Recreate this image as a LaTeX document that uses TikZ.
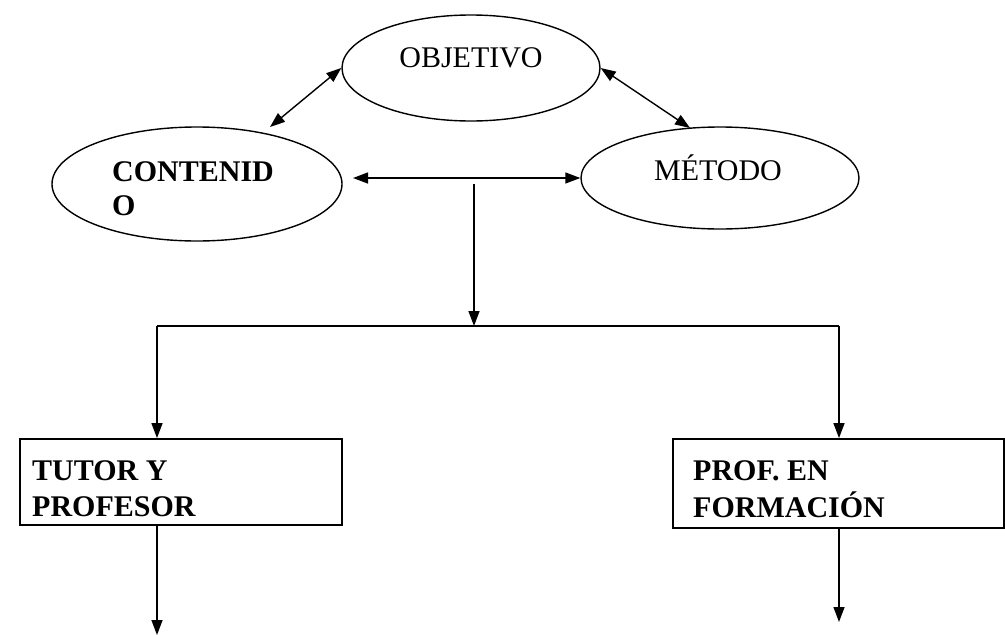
\documentclass[tikz,border=0pt]{standalone}
\usepackage{fontspec}
\setmainfont{Liberation Serif}
\usetikzlibrary{arrows.meta,shapes.geometric}
\begin{document}
\begin{tikzpicture}[x=1pt,y=-1pt,
  conn/.style={line width=1.4pt},
  tip/.style={-{Triangle[length=15pt,width=11pt]}},
  dtip/.style={{Triangle[length=15pt,width=11pt]}-{Triangle[length=15pt,width=11pt]}},
  oval/.style={draw,ellipse,line width=1.4pt,inner sep=0pt},
  boxn/.style={draw,rectangle,line width=1.8pt,inner sep=0pt},
  lbl/.style={font=\fontsize{30}{35}\selectfont,inner sep=0pt,anchor=base},
  blbl/.style={font=\bfseries\fontsize{30}{35}\selectfont,inner sep=0pt,anchor=base west}]
\useasboundingbox (0,0) rectangle (1005,635);
% ellipses
\node[oval,minimum width=258pt,minimum height=106pt] (obj) at (471,68) {};
\node[oval,minimum width=290pt,minimum height=114pt] (cont) at (197,184) {};
\node[oval,minimum width=278pt,minimum height=102pt] (met) at (720,178) {};
\node[lbl] (objt) at (471,67) {OBJETIVO};
\node[lbl] (mett) at (718,180) {MÉTODO};
\node[blbl] (cont1) at (112,181) {CONTENID};
\node[blbl] (cont2) at (112,215) {O};
% boxes
\node[boxn,minimum width=322pt,minimum height=86pt] (tpb) at (181,482) {};
\node[boxn,minimum width=331pt,minimum height=89pt] (pfb) at (838.5,483.5) {};
\node[blbl] (tp1) at (32,480) {TUTOR Y};
\node[blbl] (tp2) at (32,516) {PROFESOR};
\node[blbl] (pf1) at (693,480) {PROF. EN};
\node[blbl] (pf2) at (693,517) {FORMACIÓN};
% free ends
\coordinate (a1) at (270,127);
\coordinate (a2) at (690,128);
\coordinate (h1) at (353,178);
\coordinate (v0) at (474,184);
\coordinate (v1) at (474,326);
\coordinate (jl) at (157,326);
\coordinate (jr) at (839,326);
\coordinate (el) at (157,635);
\coordinate (er) at (839,622);
% connectors
\draw[conn,dtip] (obj.west) -- (a1);
\draw[conn,dtip] (obj.east) -- (a2);
\draw[conn,dtip] (h1) -- (met.west);
\draw[conn,tip] (v0) -- (v1);
\draw[conn] (jl) -- (jr);
\draw[conn,tip] (jl) -- (jl |- tpb.north);
\draw[conn,tip] (jr) -- (jr |- pfb.north);
\draw[conn,tip] (el |- tpb.south) -- (el);
\draw[conn,tip] (er |- pfb.south) -- (er);
\end{tikzpicture}
\end{document}
